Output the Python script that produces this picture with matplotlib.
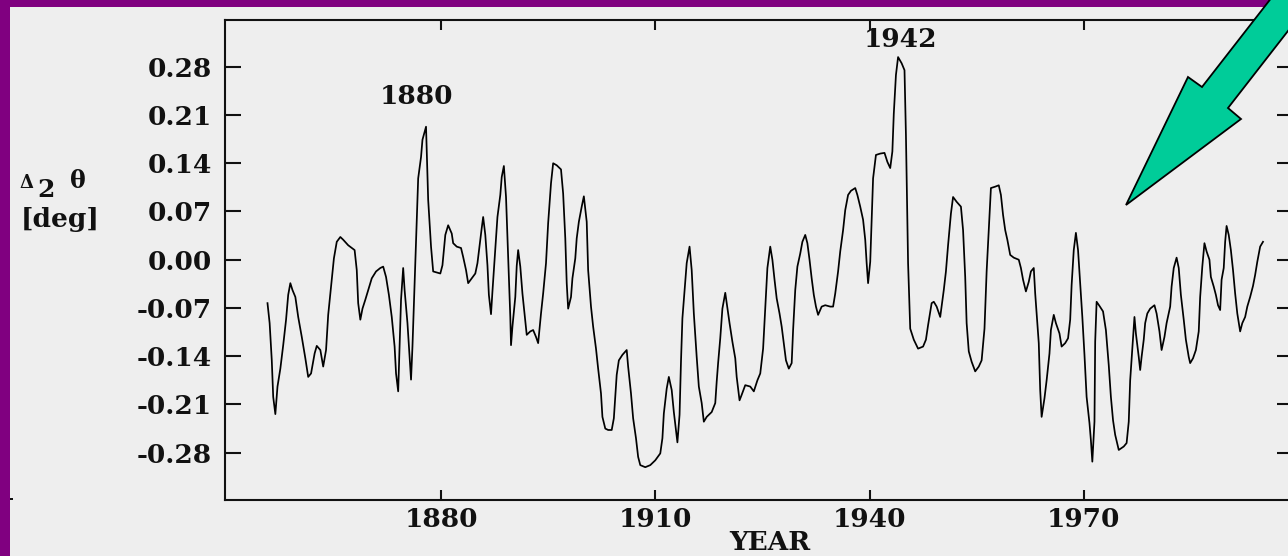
import matplotlib
matplotlib.use("Agg")
import matplotlib.pyplot as plt
from matplotlib.patches import Polygon, Rectangle
from matplotlib.transforms import Affine2D

# ---- data ----
years = [
    1855.7, 1856.0, 1856.3, 1856.5, 1856.8, 1857.1, 1857.5, 1857.9, 1858.3, 1858.6,
    1858.9, 1859.2, 1859.6, 1860.0, 1860.5, 1861.0, 1861.4, 1861.8, 1862.3, 1862.6,
    1863.1, 1863.5, 1863.9, 1864.2, 1864.7, 1865.0, 1865.4, 1865.9, 1866.3, 1867.0,
    1867.9, 1868.2, 1868.4, 1868.7, 1869.0, 1869.4, 1869.8, 1870.3, 1870.9, 1871.5,
    1871.9, 1872.3, 1872.7, 1873.1, 1873.5, 1873.7, 1874.0, 1874.4, 1874.7, 1874.9,
    1875.3, 1875.6, 1875.8, 1876.0, 1876.3, 1876.6, 1876.8, 1877.2, 1877.4, 1877.9,
    1878.2, 1878.6, 1878.9,
    1879.9, 1880.2, 1880.6, 1881.0, 1881.5, 1881.7, 1882.2, 1882.8, 1883.1, 1883.5,
    1883.8, 1884.3, 1884.8, 1885.1, 1885.4, 1885.7, 1885.9, 1886.2, 1886.5, 1886.7,
    1887.0, 1887.2, 1887.6, 1887.9, 1888.3, 1888.5, 1888.8, 1889.1, 1889.4, 1889.7,
    1889.8, 1890.0, 1890.4, 1890.6, 1890.8, 1891.1, 1891.4, 1891.8, 1892.0, 1892.5,
    1892.9, 1893.3, 1893.6, 1894.0, 1894.3, 1894.7, 1895.0, 1895.4, 1895.7, 1896.2,
    1896.8, 1897.1, 1897.4, 1897.6, 1897.8, 1898.2, 1898.4, 1898.8, 1899.0, 1899.3,
    1899.7, 1900.0, 1900.4, 1900.6, 1901.0, 1901.3, 1901.7, 1902.0, 1902.4, 1902.6,
    1903.0, 1903.4,
    1903.9, 1904.2, 1904.4, 1904.6, 1904.9, 1905.4, 1906.0, 1906.2, 1906.6, 1906.9,
    1907.3, 1907.6, 1907.9, 1908.6, 1909.3, 1910.0, 1910.7, 1911.0, 1911.2, 1911.6,
    1911.9, 1912.3, 1912.6, 1912.9, 1913.1, 1913.4, 1913.6, 1913.8, 1914.1, 1914.4,
    1914.8, 1915.1, 1915.4, 1915.8, 1916.1, 1916.5, 1916.8, 1917.2, 1917.9, 1918.4,
    1918.6, 1918.8, 1919.1, 1919.4, 1919.8, 1920.0, 1920.4, 1920.8, 1921.2, 1921.4,
    1921.8, 1922.1, 1922.6, 1923.3, 1923.8, 1924.3, 1924.7, 1925.1, 1925.4, 1925.7,
    1926.1, 1926.4, 1926.7, 1927.0,
    1927.4, 1927.7, 1928.0, 1928.3, 1928.7, 1929.1, 1929.3, 1929.6, 1929.9, 1930.3,
    1930.6, 1931.0, 1931.3, 1931.6, 1931.9, 1932.2, 1932.5, 1932.8, 1933.3, 1933.8,
    1934.5, 1934.9, 1935.2, 1935.6, 1935.9, 1936.3, 1936.6, 1937.0, 1937.4, 1938.0,
    1938.3, 1938.7, 1939.1, 1939.4, 1939.6, 1939.8, 1940.1, 1940.3, 1940.5, 1940.9,
    1941.5, 1942.1, 1942.5, 1942.9, 1943.2, 1943.4, 1943.7, 1944.0, 1944.5, 1944.9,
    1945.1, 1945.4, 1945.7, 1946.2, 1946.8, 1947.5, 1947.9, 1948.2, 1948.7, 1949.0,
    1949.4, 1949.9,
    1950.4, 1950.7, 1951.0, 1951.4, 1951.7, 1952.2, 1952.8, 1953.1, 1953.4, 1953.6,
    1953.9, 1954.3, 1954.8, 1955.3, 1955.7, 1956.1, 1956.4, 1956.8, 1957.0, 1957.6,
    1958.1, 1958.4, 1958.7, 1959.0, 1959.3, 1959.7, 1960.2, 1960.9, 1961.2, 1961.5,
    1961.9, 1962.3, 1962.6, 1963.0, 1963.2, 1963.4, 1963.7, 1963.9, 1964.1, 1964.5,
    1964.8, 1965.2, 1965.4, 1965.8, 1966.1, 1966.6, 1966.9, 1967.4, 1967.8, 1968.1,
    1968.3, 1968.6, 1968.9, 1969.2, 1969.5, 1969.8, 1970.1, 1970.4, 1970.8, 1971.0,
    1971.2, 1971.5, 1971.6, 1971.8, 1972.2, 1972.7, 1973.1, 1973.5, 1973.8, 1974.1,
    1974.4, 1974.9,
    1975.6, 1976.0, 1976.3, 1976.5, 1976.9, 1977.1, 1977.3, 1977.7, 1977.9, 1978.1,
    1978.4, 1978.6, 1978.9, 1979.3, 1979.9, 1980.2, 1980.6, 1980.9, 1981.3, 1981.6,
    1982.1, 1982.3, 1982.6, 1983.0, 1983.3, 1983.6, 1984.0, 1984.3, 1984.7, 1984.9,
    1985.3, 1985.7, 1986.1, 1986.3, 1986.6, 1986.9, 1987.2, 1987.6, 1987.8, 1988.2,
    1988.5, 1988.8, 1989.1, 1989.3, 1989.6, 1989.8, 1990.0, 1990.3, 1990.6, 1990.9,
    1991.2, 1991.5, 1991.9, 1992.2, 1992.6, 1992.9, 1993.3, 1993.7, 1994.0, 1994.3,
    1994.7, 1995.1,
]

delta_theta = [
    -0.063, -0.092, -0.146, -0.199, -0.224, -0.184, -0.158, -0.124, -0.087, -0.051,
    -0.034, -0.044, -0.054, -0.083, -0.112, -0.143, -0.170, -0.165, -0.136, -0.125,
    -0.131, -0.155, -0.131, -0.080, -0.029, 0.002, 0.026, 0.033, 0.029, 0.021,
    0.014, -0.015, -0.063, -0.087, -0.071, -0.058, -0.044, -0.027, -0.017, -0.012,
    -0.010, -0.025, -0.051, -0.083, -0.126, -0.165, -0.191, -0.058, -0.012, -0.044,
    -0.092, -0.141, -0.174, -0.126, -0.034, 0.058, 0.118, 0.149, 0.174, 0.193,
    0.087, 0.019, -0.017,
    -0.020, -0.008, 0.036, 0.050, 0.038, 0.024, 0.019, 0.017, 0.004, -0.015,
    -0.034, -0.027, -0.020, -0.005, 0.021, 0.046, 0.062, 0.036, -0.008, -0.051,
    -0.079, -0.046, 0.017, 0.062, 0.094, 0.120, 0.136, 0.091, 0.004, -0.083,
    -0.124, -0.097, -0.054, -0.009, 0.014, -0.010, -0.049, -0.090, -0.109, -0.104,
    -0.102, -0.112, -0.121, -0.078, -0.049, -0.005, 0.053, 0.111, 0.140, 0.137,
    0.131, 0.096, 0.031, -0.034, -0.071, -0.054, -0.027, 0.002, 0.031, 0.055,
    0.077, 0.092, 0.055, -0.015, -0.068, -0.097, -0.129, -0.158, -0.194, -0.228,
    -0.245, -0.247,
    -0.247, -0.230, -0.199, -0.167, -0.146, -0.138, -0.131, -0.155, -0.194, -0.230,
    -0.259, -0.286, -0.298, -0.301, -0.298, -0.291, -0.281, -0.259, -0.223, -0.187,
    -0.170, -0.189, -0.221, -0.247, -0.265, -0.225, -0.148, -0.085, -0.044, -0.005,
    0.019, -0.015, -0.078, -0.141, -0.184, -0.208, -0.235, -0.228, -0.221, -0.208,
    -0.177, -0.150, -0.114, -0.071, -0.048, -0.063, -0.092, -0.119, -0.143, -0.170,
    -0.204, -0.196, -0.182, -0.184, -0.191, -0.175, -0.165, -0.129, -0.071, -0.012,
    0.019, 0.000, -0.029, -0.056,
    -0.078, -0.097, -0.121, -0.146, -0.158, -0.150, -0.102, -0.044, -0.010, 0.009,
    0.026, 0.036, 0.024, 0.000, -0.027, -0.051, -0.068, -0.080, -0.068, -0.066,
    -0.068, -0.068, -0.049, -0.017, 0.012, 0.043, 0.072, 0.094, 0.100, 0.104,
    0.094, 0.077, 0.058, 0.029, -0.005, -0.034, -0.003, 0.058, 0.118, 0.152,
    0.154, 0.155, 0.142, 0.133, 0.157, 0.212, 0.268, 0.294, 0.285, 0.275,
    0.181, -0.005, -0.100, -0.116, -0.129, -0.126, -0.116, -0.095, -0.063, -0.061,
    -0.068, -0.083,
    -0.044, -0.017, 0.021, 0.067, 0.091, 0.084, 0.077, 0.043, -0.025, -0.092,
    -0.133, -0.148, -0.162, -0.155, -0.146, -0.100, -0.017, 0.065, 0.104, 0.106,
    0.108, 0.094, 0.065, 0.043, 0.029, 0.007, 0.003, 0.000, -0.012, -0.029,
    -0.046, -0.032, -0.017, -0.012, -0.049, -0.078, -0.121, -0.189, -0.228, -0.201,
    -0.175, -0.136, -0.102, -0.080, -0.092, -0.107, -0.126, -0.121, -0.114, -0.087,
    -0.037, 0.014, 0.039, 0.014, -0.034, -0.083, -0.138, -0.199, -0.237, -0.262,
    -0.293, -0.235, -0.119, -0.061, -0.067, -0.075, -0.102, -0.153, -0.199, -0.233,
    -0.254, -0.276,
    -0.271, -0.266, -0.235, -0.175, -0.114, -0.083, -0.107, -0.141, -0.160, -0.141,
    -0.116, -0.092, -0.078, -0.071, -0.066, -0.078, -0.104, -0.131, -0.112, -0.092,
    -0.068, -0.039, -0.012, 0.003, -0.012, -0.051, -0.087, -0.116, -0.141, -0.150,
    -0.143, -0.131, -0.104, -0.054, -0.010, 0.024, 0.012, 0.000, -0.025, -0.039,
    -0.051, -0.066, -0.073, -0.029, -0.012, 0.026, 0.049, 0.036, 0.014, -0.015,
    -0.049, -0.078, -0.104, -0.092, -0.083, -0.068, -0.054, -0.038, -0.022, -0.003,
    0.019, 0.026,
]

y_ticks = [-0.28, -0.21, -0.14, -0.07, 0.0, 0.07, 0.14, 0.21, 0.28]
y_tick_labels = ["-0.28", "-0.21", "-0.14", "-0.07", "0.00", "0.07", "0.14", "0.21", "0.28"]
x_ticks = [1880, 1910, 1940, 1970]
x_tick_labels = ["1880", "1910", "1940", "1970"]
peak_labels = ["1880", "1942"]
peak_years = [1876.5, 1944.3]
peak_values = [0.226, 0.3086]

# ---- figure ----
W, H = 1288, 556
BG = "#eeeeee"
INK = "#111111"
plt.rcParams["font.family"] = ["DejaVu Serif"]
plt.rcParams["font.weight"] = "bold"

fig = plt.figure(figsize=(W / 100, H / 100), dpi=100, facecolor=BG)
px = Affine2D().scale(1 / W, -1 / H).translate(0, 1) + fig.transFigure

ax = fig.add_axes([225 / W, 1 - 500 / H, (1293 - 225) / W, 480 / H])
ax.set_facecolor(BG)
ax.plot(years, delta_theta, color="black", lw=1.25)
ax.set_xlim(1849.75, 1999.3)
ax.set_ylim(-0.3486, 0.3478)

ax.set_yticks(y_ticks, y_tick_labels)
ax.set_xticks(x_ticks, x_tick_labels)
for sp in ax.spines.values():
    sp.set_linewidth(1.5)
    sp.set_color(INK)
ax.tick_params(axis="y", direction="in", length=11.5, width=1.5, left=True,
               right=True, labelsize=19, pad=9.5, colors=INK)
ax.tick_params(axis="x", direction="in", length=7.2, width=1.5, bottom=True,
               top=True, labelsize=19, pad=5, colors=INK)
for lab in ax.get_xticklabels() + ax.get_yticklabels():
    lab.set_fontweight("bold")

for txt, yr, val in zip(peak_labels, peak_years, peak_values):
    ax.text(yr, val, txt, ha="center", va="baseline", fontsize=19,
            fontweight="bold", color=INK)

# axis labels
fig.text(770, 550, "YEAR", transform=px, ha="center", va="baseline", fontsize=19,
         fontweight="bold", color=INK)
fig.text(19, 188, "Δ", transform=px, ha="left", va="baseline", fontsize=13,
         fontweight="bold", color=INK)
fig.text(37, 197, "2", transform=px, ha="left", va="baseline", fontsize=18,
         fontweight="bold", color=INK)
fig.text(70, 188, "θ", transform=px, ha="left", va="baseline", fontsize=17,
         fontweight="bold", color=INK)
fig.text(21, 220, "[deg]", transform=px, ha="left", va="center", fontsize=19,
         fontweight="bold", color=INK)

# purple frame
fig.add_artist(Rectangle((0, 0), 10, H, transform=px, facecolor="#800080",
                         edgecolor="none", zorder=5))
fig.add_artist(Rectangle((0, 0), W, 7, transform=px, facecolor="#800080",
                         edgecolor="none", zorder=5))
fig.add_artist(Rectangle((10, 498), 3, 2, transform=px, facecolor=INK,
                         edgecolor="none", zorder=5))

# green arrow pointing down-left
arrow_pts = [(1126, 205), (1188, 77), (1202, 87), (1325, -71),
             (1351, -50), (1228, 108), (1241, 119)]
fig.add_artist(Polygon(arrow_pts, closed=True, transform=px, facecolor="#00cc99",
                       edgecolor="black", lw=1.3, zorder=10, clip_on=False))

fig.savefig("out.png", dpi=100, facecolor=BG)
